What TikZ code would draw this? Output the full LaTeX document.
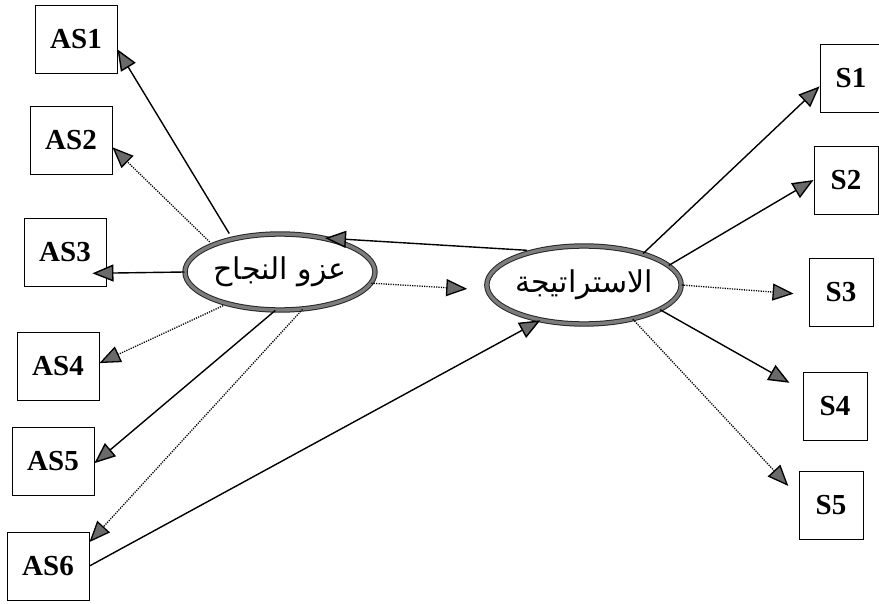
\documentclass[tikz,border=0pt]{standalone}
\usepackage{fontspec}
\setmainfont{Liberation Serif}
\newfontfamily\arabicfont[Script=Arabic]{DejaVu Sans}
\TeXXeTstate=1
\usetikzlibrary{arrows.meta,shapes.geometric}
\definecolor{tipgray}{HTML}{6A6A6A}
\definecolor{rimgray}{HTML}{7C7C7C}

\begin{document}
\begin{tikzpicture}[x=1pt,y=-1pt,
      >={Triangle[length=21pt,width=17pt,fill=tipgray]},
      item/.style={draw,line width=0.9pt,minimum width=82pt,minimum height=68pt,inner sep=0pt,
                   font=\fontsize{29}{31}\selectfont\bfseries},
      sitem/.style={item,minimum width=64pt},
      factor/.style={ellipse,draw=black!85,double=rimgray,double distance=3.4pt,line width=1pt,
                     inner sep=0pt,font=\arabicfont\fontsize{30}{34}\selectfont},
      strong/.style={->,line width=1.4pt},
      weak/.style={->,line width=1.3pt,dash pattern=on 1.2pt off 1.2pt,draw=black}]
    \useasboundingbox (0,0) rectangle (879,604);
    \node[item] (as1) at (76,39)  {AS1};
    \node[item] (as2) at (71,140) {AS2};
    \node[item] (as3) at (65,252) {AS3};
    \node[item] (as4) at (58,366) {AS4};
    \node[item] (as5) at (53,461) {AS5};
    \node[item] (as6) at (48,566) {AS6};
    \node[sitem,minimum width=62pt] (s1) at (851,78) {S1};
    \node[sitem] (s2) at (846,180) {S2};
    \node[sitem] (s3) at (841,292) {S3};
    \node[sitem] (s4) at (835,406) {S4};
    \node[sitem] (s5) at (831,505) {S5};
    \node[factor,minimum width=190pt,minimum height=76pt] (attr) at (280,272)
      {\beginR عزو النجاح\endR};
    \node[factor,minimum width=194pt,minimum height=78pt] (strat) at (584,285)
      {\beginR الاستراتيجة\endR};
    \draw[strong,shorten <=6pt]   (attr.145)  -- (as1.-14);
    \draw[weak,shorten <=4pt]     (attr.158)  -- (as2.-10);
    \draw[strong,shorten >=-14pt] (attr.west) -- (as3.-27);
    \draw[weak,shorten <=4pt]     (attr.211)  -- (as4.4);
    \draw[strong]                 (attr.263)  -- (as5.-3);
    \draw[weak]                   (attr.301)  -- (as6.30);
    \draw[strong]                 (as6.east)  -- (strat.219);
    \draw[strong,shorten <=8pt]   (strat.145) -- (attr.37);
    \draw[weak,shorten >=20pt]    (attr.-7)   -- (strat.183);
    \draw[strong]                 (strat.28)  -- (s1.195);
    \draw[strong]                 (strat.13)  -- (s2.west);
    \draw[weak,shorten >=15pt]    (strat.east) -- (s3.185);
    \draw[strong,shorten >=15pt]  (strat.-18) -- (s4.154);
    \draw[weak,shorten >=15pt]    (strat.-35) -- (s5.166);
  \end{tikzpicture}
\end{document}
